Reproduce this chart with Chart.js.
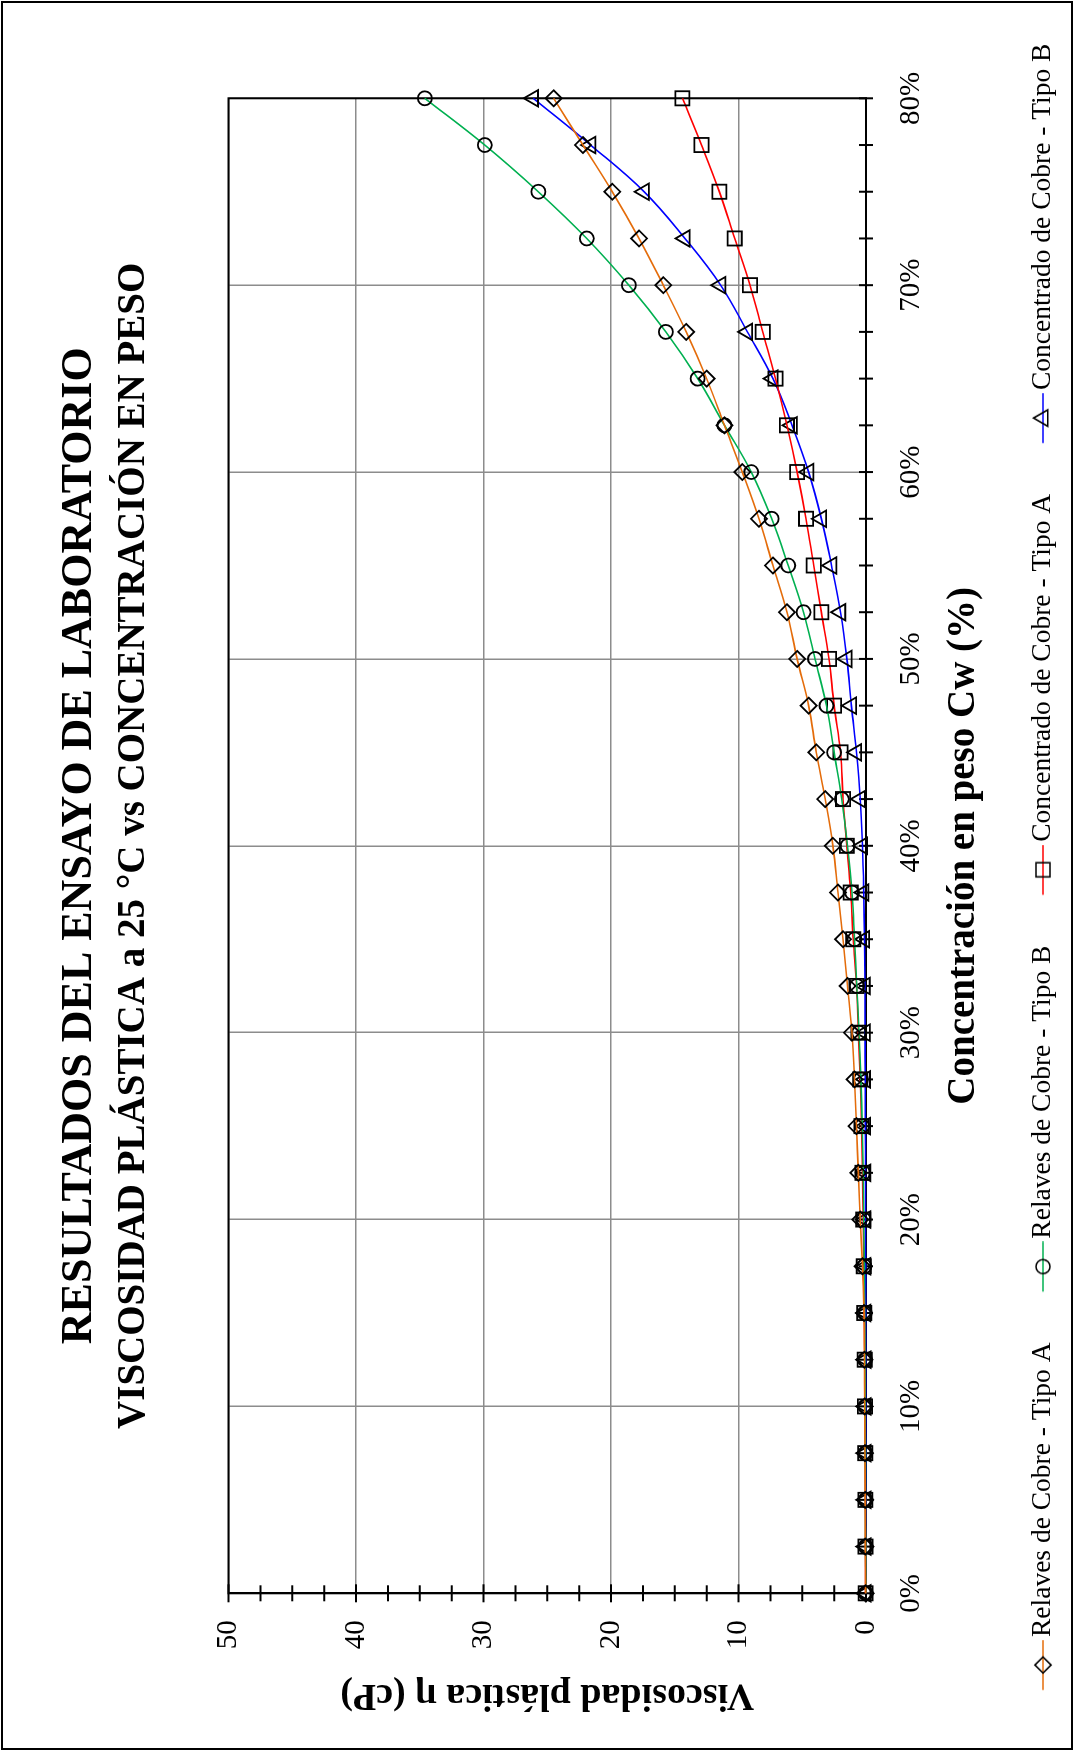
<!DOCTYPE html>
<html>
<head>
<meta charset="utf-8">
<script src="https://cdn.jsdelivr.net/npm/chart.js@4.4.0/dist/chart.umd.min.js"></script>
<style>
html, body { margin: 0; padding: 0; background: #fff; width: 1074px; height: 1754px; overflow: hidden; }
#giro { position: absolute; left: 0; top: 0; width: 1754px; height: 1074px; transform-origin: 0 0; transform: translate(0px, 1754px) rotate(-90deg); background: #fff; }
canvas { display: block; }
</style>
</head>
<body>
<div id="giro"><canvas id="grafico" width="1754" height="1074"></canvas></div>
<script>
// ---- Datos ----
const concentracion = [0, 2.5, 5, 7.5, 10, 12.5, 15, 17.5, 20, 22.5, 25, 27.5, 30, 32.5, 35, 37.5, 40, 42.5, 45, 47.5, 50, 52.5, 55, 57.5, 60, 62.5, 65, 67.5, 70, 72.5, 75, 77.5, 80];
const relavesA = [0.03, 0.05, 0.06, 0.08, 0.1, 0.12, 0.15, 0.28, 0.45, 0.6, 0.75, 0.9, 1.1, 1.45, 1.8, 2.2, 2.6, 3.2, 3.9, 4.5, 5.4, 6.2, 7.3, 8.4, 9.7, 11.1, 12.5, 14.1, 15.9, 17.8, 19.9, 22.2, 24.5];
const relavesB = [0.02, 0.03, 0.04, 0.05, 0.06, 0.08, 0.1, 0.13, 0.18, 0.22, 0.3, 0.4, 0.55, 0.72, 0.9, 1.1, 1.45, 1.9, 2.5, 3.1, 4.0, 4.9, 6.1, 7.4, 9.0, 11.1, 13.2, 15.7, 18.6, 21.9, 25.7, 29.9, 34.6];
const concentradoA = [0.03, 0.04, 0.05, 0.06, 0.08, 0.1, 0.13, 0.17, 0.22, 0.28, 0.35, 0.45, 0.6, 0.75, 1.0, 1.2, 1.5, 1.8, 2.0, 2.5, 2.9, 3.5, 4.1, 4.7, 5.4, 6.2, 7.1, 8.1, 9.1, 10.3, 11.5, 12.9, 14.4];
const concentradoB = [0.02, 0.02, 0.02, 0.02, 0.02, 0.02, 0.03, 0.03, 0.04, 0.04, 0.05, 0.06, 0.07, 0.08, 0.12, 0.18, 0.28, 0.45, 0.75, 1.15, 1.5, 2.0, 2.7, 3.5, 4.5, 5.8, 7.3, 9.3, 11.4, 14.2, 17.4, 21.6, 26.1];
const marcasViscosidad = [0, 2.5, 5, 7.5, 10, 12.5, 15, 17.5, 20, 22.5, 25, 27.5, 30, 32.5, 35, 37.5, 40, 42.5, 45, 47.5, 50];
const nombresSeries = ['Relaves de Cobre - Tipo A', 'Relaves de Cobre - Tipo B', 'Concentrado de Cobre - Tipo A', 'Concentrado de Cobre - Tipo B'];
const titulo = 'RESULTADOS DEL ENSAYO DE LABORATORIO';
const subtitulo = 'VISCOSIDAD PLÁSTICA a 25 °C vs CONCENTRACIÓN EN PESO';
const tituloX = 'Concentración en peso Cw (%)';
const tituloY = 'Viscosidad plástica η (cP)';

const SERIF = '"Liberation Serif", "Times New Roman", "DejaVu Serif", serif';
const series = [relavesA, relavesB, concentradoA, concentradoB];
const estilos = [
  { color: '#E46C0A', punto: 'rectRot', radio: 8 },
  { color: '#00B050', punto: 'circle', radio: 7 },
  { color: '#FF0000', punto: 'rect', radio: 10 },
  { color: '#0000FF', punto: 'triangle', radio: 9.5 }
];

function dibujarMarcador(g, tipo, r, x, y) {
  g.beginPath();
  if (tipo === 'circle') {
    g.arc(x, y, r, 0, Math.PI * 2);
  } else if (tipo === 'rect') {
    const s = r * Math.SQRT1_2;
    g.rect(x - s, y - s, 2 * s, 2 * s);
  } else if (tipo === 'rectRot') {
    g.moveTo(x - r, y); g.lineTo(x, y - r); g.lineTo(x + r, y); g.lineTo(x, y + r); g.closePath();
  } else if (tipo === 'triangle') {
    const a = 2 * Math.PI / 3;
    g.moveTo(x, y - r);
    g.lineTo(x + Math.sin(a) * r, y - Math.cos(a) * r);
    g.lineTo(x + Math.sin(2 * a) * r, y - Math.cos(2 * a) * r);
    g.closePath();
  }
  g.stroke();
}

function muestraLeyenda(est) {
  const c = document.createElement('canvas');
  c.width = 102; c.height = 30;
  const g = c.getContext('2d');
  g.strokeStyle = est.color; g.lineWidth = 1.6;
  g.beginPath(); g.moveTo(51.75, 15); g.lineTo(101.75, 15); g.stroke();
  g.strokeStyle = '#000'; g.lineWidth = 1.6;
  dibujarMarcador(g, est.punto, est.radio, 76.75, 15);
  return c;
}
const muestras = estilos.map(muestraLeyenda);

const datasets = series.map((valores, i) => ({
  label: nombresSeries[i],
  data: concentracion.map((c, k) => ({ x: c, y: valores[k] })),
  borderColor: estilos[i].color,
  borderWidth: 1.6,
  backgroundColor: 'rgba(0,0,0,0)',
  pointStyle: estilos[i].punto,
  pointRadius: estilos[i].radio,
  pointBorderColor: '#000',
  pointBackgroundColor: 'rgba(0,0,0,0)',
  pointBorderWidth: 1.8,
  tension: 0.4,
  fill: false,
  clip: false
}));

const decoracion = {
  id: 'decoracion',
  beforeDatasetsDraw(chart) {
    const { ctx, chartArea: a, scales: { x, y } } = chart;
    ctx.save();
    ctx.strokeStyle = '#000';
    ctx.lineWidth = 2;
    ctx.strokeRect(a.left, a.top, a.right - a.left, a.bottom - a.top);
    ctx.beginPath();
    concentracion.forEach(v => {
      const p = x.getPixelForValue(v);
      ctx.moveTo(p, a.bottom - 7); ctx.lineTo(p, a.bottom + 7);
    });
    marcasViscosidad.forEach(v => {
      const p = y.getPixelForValue(v);
      const l = (v % 10 === 0) ? 9 : 8;
      ctx.moveTo(a.left - l, p); ctx.lineTo(a.left + l, p);
    });
    ctx.stroke();
    ctx.restore();
  },
  afterDraw(chart) {
    const ctx = chart.ctx;
    ctx.save();
    ctx.strokeStyle = '#000';
    ctx.lineWidth = 2;
    ctx.strokeRect(5, 2, 1747, 1070);
    ctx.restore();
  }
};

new Chart(document.getElementById('grafico'), {
  type: 'line',
  data: { datasets },
  plugins: [decoracion],
  options: {
    responsive: false,
    animation: false,
    devicePixelRatio: 1,
    layout: { padding: { left: 13.25, right: 0, top: 0, bottom: 7.25 } },
    plugins: {
      title: {
        display: true, text: titulo, fullSize: false, color: '#000',
        font: { family: SERIF, size: 44, weight: 'bold', lineHeight: 1.2 },
        padding: { top: 53.6, bottom: 0 }
      },
      subtitle: {
        display: true, text: subtitulo, fullSize: false, color: '#000',
        font: { family: SERIF, size: 39, weight: 'bold', lineHeight: 1.2 },
        padding: { top: 4.2, bottom: 71.1 }
      },
      legend: {
        display: true, position: 'bottom', align: 'start',
        labels: {
          usePointStyle: true, pointStyleWidth: 80, padding: 10, color: '#000',
          font: { family: SERIF, size: 27.5 },
          generateLabels: (chart) => chart.data.datasets.map((ds, i) => ({
            text: ds.label, pointStyle: muestras[i], fillStyle: 'rgba(0,0,0,0)',
            strokeStyle: 'rgba(0,0,0,0)', lineWidth: 0, hidden: false,
            datasetIndex: i, fontColor: '#000'
          }))
        }
      },
      tooltip: { enabled: false }
    },
    scales: {
      x: {
        type: 'linear', position: 'bottom', min: 0, max: 80,
        ticks: { stepSize: 10, autoSkip: false, maxRotation: 0, color: '#000', padding: 28,
                 font: { family: SERIF, size: 29 }, callback: v => v + '%' },
        grid: { color: '#8c8c8c', lineWidth: 1.5, drawTicks: false },
        border: { color: '#000', width: 2 },
        title: { display: true, text: tituloX, color: '#000',
                 font: { family: SERIF, size: 39, weight: 'bold', lineHeight: 1.2 },
                 padding: { top: 0, bottom: 31.85 } },
        afterFit(s) { s.height = 153.25; }
      },
      y: {
        type: 'linear', position: 'left', min: 0, max: 50,
        ticks: { stepSize: 10, color: '#000', padding: 27, font: { family: SERIF, size: 29 } },
        grid: { color: '#8c8c8c', lineWidth: 1.5, drawTicks: false },
        border: { color: '#000', width: 2 },
        title: { display: true, text: tituloY, color: '#000',
                 font: { family: SERIF, size: 38, weight: 'bold', lineHeight: 1.2 },
                 padding: { top: 23, bottom: 0 } },
        afterFit(s) { s.width = 147.45; }
      },
      y2: {
        type: 'linear', position: 'right', min: 0, max: 1, display: true,
        ticks: { display: false }, grid: { display: false, drawTicks: false },
        border: { display: false },
        afterFit(s) { s.width = 98.3; }
      }
    }
  }
});
</script>
</body>
</html>
